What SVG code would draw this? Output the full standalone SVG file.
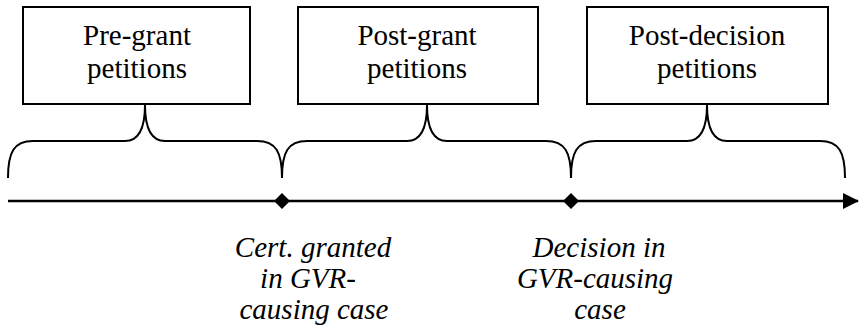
<svg xmlns="http://www.w3.org/2000/svg" width="862" height="333" viewBox="0 0 862 333" font-family="Liberation Serif, DejaVu Serif, serif">
<style>
.box{fill:#fff;stroke:#000;stroke-width:2}
.t{font-size:29px;fill:#000;text-anchor:middle}
.i{font-style:italic}
.br{fill:none;stroke:#000;stroke-width:2}
.ln{stroke:#000;stroke-width:2.5;fill:none}
</style>
<defs>
<marker id="arr" viewBox="0 0 16 16" refX="15" refY="8" markerWidth="16" markerHeight="16" markerUnits="userSpaceOnUse" orient="auto">
<path d="M0,0 L16,8 L0,16 Z" fill="#000"/>
</marker>
</defs>
<rect width="862" height="333" fill="#fff"/>
<g id="node-pregrant">
<rect class="box" x="23" y="7" width="227" height="97"/>
<text class="t" x="137" y="45" font-family="Liberation Serif">Pre-grant</text>
<text class="t" x="137" y="78" font-family="Liberation Serif">petitions</text>
</g>
<g id="node-postgrant">
<rect class="box" x="298" y="7" width="240" height="97"/>
<text class="t" x="417" y="45" font-family="Liberation Serif">Post-grant</text>
<text class="t" x="417" y="78" font-family="Liberation Serif">petitions</text>
</g>
<g id="node-postdecision">
<rect class="box" x="587" y="7" width="241" height="97"/>
<text class="t" x="707" y="45" font-family="Liberation Serif">Post-decision</text>
<text class="t" x="707" y="78" font-family="Liberation Serif">petitions</text>
</g>
<g id="connectors">
<path class="br" d="M8,178 C8,152 14,141 33,141 L125,141 C138,141 145,130 145,105 C145,130 152,141 165,141 L257,141 C276,141 282,152 282,178"/>
<path class="br" d="M282,178 C282,152 288,141 307,141 L407,141 C420,141 427,130 427,105 C427,130 434,141 447,141 L546,141 C565,141 571,152 571,178"/>
<path class="br" d="M571,178 C571,152 577,141 596,141 L687,141 C700,141 707,130 707,105 C707,130 714,141 727,141 L820,141 C839,141 845,152 845,178"/>
<line class="ln" x1="8" y1="201" x2="858" y2="201" marker-end="url(#arr)"/>
<path d="M282,193 L290,201 L282,209 L274,201 Z" fill="#000"/>
<path d="M571,193 L579,201 L571,209 L563,201 Z" fill="#000"/>
</g>
<g id="label-cert">
<text class="t i" x="313" y="257" font-family="Liberation Serif">Cert. granted</text>
<text class="t i" x="308" y="288" font-family="Liberation Serif">in GVR-</text>
<text class="t i" x="314" y="319" font-family="Liberation Serif">causing case</text>
</g>
<g id="label-decision">
<text class="t i" x="599" y="257" font-family="Liberation Serif">Decision in</text>
<text class="t i" x="595" y="288" font-family="Liberation Serif">GVR-causing</text>
<text class="t i" x="600" y="319" font-family="Liberation Serif">case</text>
</g>
</svg>
